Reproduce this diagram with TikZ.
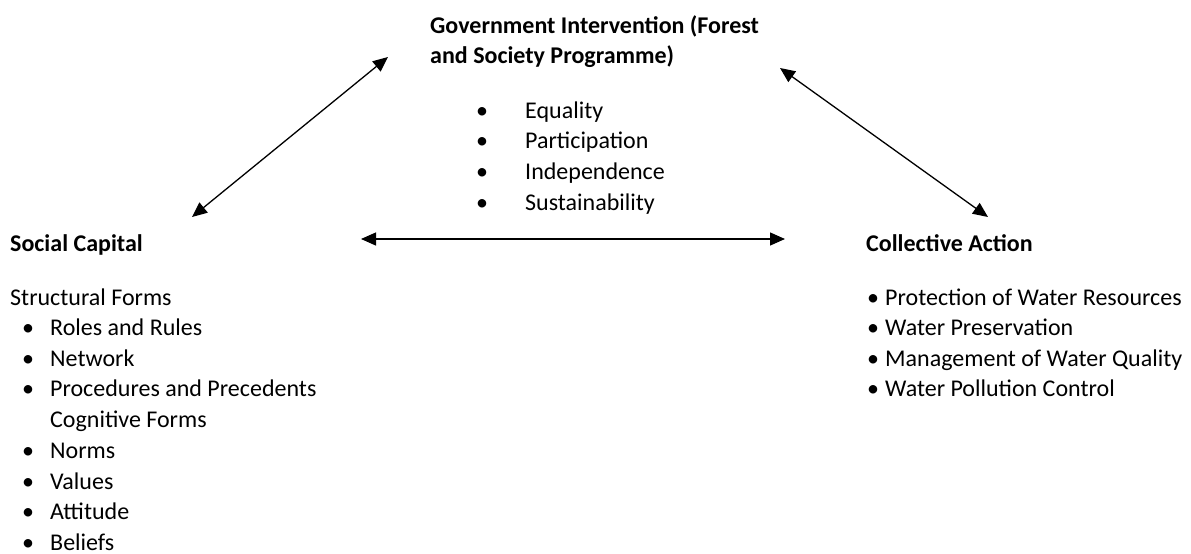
\documentclass[tikz,border=0pt]{standalone}
\usepackage{fontspec}
\setmainfont{Carlito}
\usetikzlibrary{arrows.meta}
\begin{document}
\begin{tikzpicture}[x=1pt,y=-1pt,
  txt/.style={anchor=base west,inner sep=0pt,font=\fontsize{24}{29}\selectfont},
  hdr/.style={txt,font=\fontsize{24}{29}\selectfont\bfseries},
  bul/.style={anchor=base,inner sep=0pt,font=\fontsize{24}{29}\selectfont},
  link/.style={{Triangle[length=15pt,width=13pt]}-{Triangle[length=15pt,width=13pt]},line width=1.3pt}]
\useasboundingbox (0,0) rectangle (1191,554);
% Government intervention
\node[hdr] (g1) at (430,33) {Government Intervention (Forest};
\node[hdr] (g2) at (430,63) {and Society Programme)};
\foreach \t/\y [count=\i] in {Equality/118,Participation/148.7,Independence/179.4,Sustainability/210}{
  \node[bul] (gb\i) at (482,\y) {•};
  \node[txt] (gt\i) at (525,\y) {\t};
}
% Social capital
\node[hdr] (s0) at (10,251) {Social Capital};
\node[txt] (s1) at (10,305) {Structural Forms};
\foreach \t/\y [count=\i] in {Roles and Rules/335.5,Network/366.2,Procedures and Precedents/396.9,Norms/458.3,Values/489,Attitude/519.7,Beliefs/550.4}{
  \node[bul] (sb\i) at (28,\y) {•};
  \node[txt] (st\i) at (50,\y) {\t};
}
\node[txt] (sc) at (50,427.6) {Cognitive Forms};
% Collective action
\node[hdr] (c0) at (866,251) {Collective Action};
\foreach \t/\y [count=\i] in {Protection of Water Resources/305,Water Preservation/335.5,Management of Water Quality/366,Water Pollution Control/396.5}{
  \node[bul] (cb\i) at (873,\y) {•};
  \node[txt] (ct\i) at (885,\y) {\t};
}
% arrows
\coordinate (a1) at (192,217);
\coordinate (a2) at (388,57);
\coordinate (b1) at (780,68);
\coordinate (b2) at (988,217);
\coordinate (h1) at (361,239);
\coordinate (h2) at (785,239);
\draw[link] (a1) -- (a2);
\draw[link] (b1) -- (b2);
\draw[link] (h1) -- (h2);
\end{tikzpicture}
\end{document}
